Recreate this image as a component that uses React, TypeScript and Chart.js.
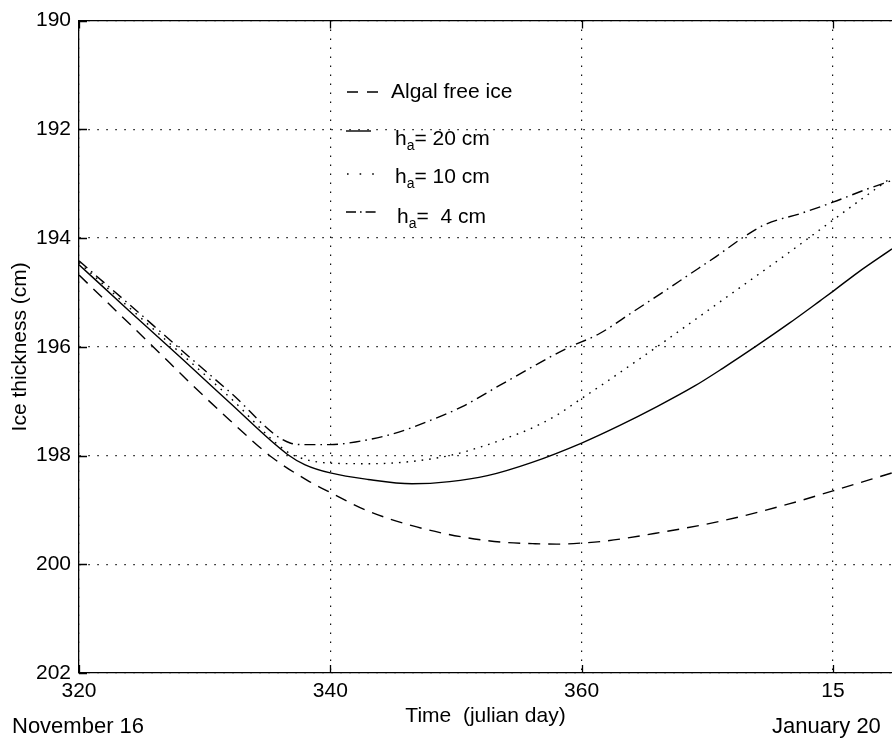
import React, { useEffect, useRef } from 'react';
import { Chart, registerables } from 'chart.js';

Chart.register(...registerables);

const FONT = "'Liberation Sans', Arial, Helvetica, sans-serif";

// Axis ticks
const xTickValues = [320, 340, 360, 380];
const xTickLabels = ['320', '340', '360', '15'];
const yTickValues = [190, 192, 194, 196, 198, 200, 202];

// Axis / annotation texts
const xAxisTitle = 'Time  (julian day)';
const yAxisTitle = 'Ice thickness (cm)';
const dateStartLabel = 'November 16';
const dateEndLabel = 'January 20';

// Series labels (underscore marks a subscript character)
const seriesLabels = ['Algal free ice', 'h_a= 20 cm', 'h_a= 10 cm', 'h_a=  4 cm'];

// Algal free ice
const algalDays = [320, 323, 326, 329, 332, 335.4, 338.2, 340, 342.9, 346.5, 350.8, 354, 356.1, 358, 360, 362, 365.9, 371.2, 376.5, 380, 384.7];
const algalThk = [194.68, 195.35, 196.02, 196.7, 197.35, 198.04, 198.46, 198.68, 199.01, 199.29, 199.51, 199.6, 199.62, 199.63, 199.61, 199.57, 199.43, 199.2, 198.89, 198.65, 198.32];

// h_a = 20 cm
const h20Days = [320, 324, 328, 332, 336.6, 338, 340, 343, 346.5, 349.5, 352.5, 356, 360, 363, 366, 369, 371.2, 374, 376.5, 379, 380, 382, 384.7];
const h20Thk = [194.49, 195.34, 196.18, 197.03, 197.98, 198.17, 198.32, 198.44, 198.52, 198.48, 198.37, 198.13, 197.77, 197.45, 197.1, 196.72, 196.4, 195.97, 195.57, 195.15, 194.98, 194.63, 194.2];

// h_a = 10 cm
const h10Days = [320, 324, 328, 332, 336.5, 338, 340, 343, 346, 349.5, 352, 354, 356, 358, 360, 362, 364, 366, 368, 370, 372, 374, 376, 378, 380, 382, 384.7];
const h10Thk = [194.45, 195.28, 196.1, 196.93, 197.92, 198.07, 198.14, 198.15, 198.12, 198.0, 197.84, 197.68, 197.5, 197.26, 196.95, 196.64, 196.32, 196.0, 195.67, 195.34, 195.01, 194.68, 194.35, 194.01, 193.67, 193.33, 192.88];

// h_a = 4 cm
const h4Days = [320, 324, 328, 332, 336.8, 338, 340, 342, 345, 348, 350.5, 353.4, 356, 358.8, 361.4, 364, 366.7, 368.5, 370.7, 373.1, 374.7, 377.4, 380, 382.7, 384.7];
const h4Thk = [194.42, 195.22, 196.03, 196.83, 197.77, 197.8, 197.8, 197.75, 197.6, 197.35, 197.1, 196.72, 196.38, 196.03, 195.76, 195.37, 194.96, 194.68, 194.34, 193.95, 193.74, 193.55, 193.34, 193.1, 192.94];

const toPoints = (days: number[], vals: number[]) => days.map((d, i) => ({ x: d, y: vals[i] }));

function drawLabel(ctx: CanvasRenderingContext2D, text: string, x: number, y: number) {
  const parts = text.split('_');
  ctx.font = `21px ${FONT}`;
  if (parts.length === 1) {
    ctx.fillText(text, x, y);
    return;
  }
  ctx.fillText(parts[0], x, y);
  x += ctx.measureText(parts[0]).width;
  const sub = parts[1].charAt(0);
  const rest = parts[1].slice(1);
  ctx.font = `14px ${FONT}`;
  ctx.fillText(sub, x, y + 5);
  x += ctx.measureText(sub).width;
  ctx.font = `21px ${FONT}`;
  ctx.fillText(rest, x, y);
}

const framePlugin = {
  id: 'matlabFrame',
  afterDatasetsDraw(chart: any) {
    const ctx: CanvasRenderingContext2D = chart.ctx;
    const { left, right, top, bottom } = chart.chartArea;
    const xs = chart.scales.x;
    const ys = chart.scales.y;
    ctx.save();
    ctx.strokeStyle = '#000';
    ctx.lineWidth = 1.3;
    ctx.setLineDash([]);
    ctx.beginPath();
    ctx.moveTo(left, top);
    ctx.lineTo(right, top);
    ctx.stroke();
    const tl = 8;
    ctx.beginPath();
    xTickValues.forEach((v) => {
      const px = Math.round(xs.getPixelForValue(v)) + 0.5;
      ctx.moveTo(px, bottom);
      ctx.lineTo(px, bottom - tl);
      ctx.moveTo(px, top);
      ctx.lineTo(px, top + tl);
    });
    yTickValues.forEach((v) => {
      const py = Math.round(ys.getPixelForValue(v)) + 0.5;
      ctx.moveTo(left, py);
      ctx.lineTo(left + tl, py);
    });
    ctx.stroke();
    ctx.restore();
  },
};

const legendRows = [
  { lineY: 92, textY: 98, textX: 391, x0: 347, x1: 378, dash: [11, 9] },
  { lineY: 131, textY: 145, textX: 395, x0: 346, x1: 371, dash: [] },
  { lineY: 174, textY: 183, textX: 395, x0: 347, x1: 375, dash: [1.6, 11] },
  { lineY: 212, textY: 223, textX: 397, x0: 346, x1: 377, dash: [10, 4, 1.6, 4] },
];

const legendPlugin = {
  id: 'matlabLegend',
  afterDraw(chart: any) {
    const ctx: CanvasRenderingContext2D = chart.ctx;
    ctx.save();
    chart.data.datasets.forEach((ds: any, i: number) => {
      const r = legendRows[i];
      ctx.strokeStyle = '#000';
      ctx.lineWidth = 1.4;
      ctx.setLineDash(r.dash);
      ctx.beginPath();
      ctx.moveTo(r.x0, r.lineY);
      ctx.lineTo(r.x1, r.lineY);
      ctx.stroke();
      ctx.setLineDash([]);
      ctx.fillStyle = '#000';
      ctx.textBaseline = 'alphabetic';
      ctx.textAlign = 'left';
      drawLabel(ctx, ds.label, r.textX, r.textY);
    });
    // date annotations under the axis
    ctx.font = `22px ${FONT}`;
    ctx.fillStyle = '#000';
    ctx.textAlign = 'left';
    ctx.textBaseline = 'alphabetic';
    ctx.fillText(dateStartLabel, 12, 733);
    ctx.fillText(dateEndLabel, 772, 733);
    ctx.restore();
  },
};

export default function App() {
  const ref = useRef<HTMLCanvasElement>(null);
  useEffect(() => {
    const canvas = ref.current;
    if (!canvas) return;
    const common = {
      borderColor: '#000',
      backgroundColor: '#000',
      borderWidth: 1.4,
      pointRadius: 0,
      fill: false,
      cubicInterpolationMode: 'monotone' as const,
      borderCapStyle: 'butt' as const,
    };
    const chart = new Chart(canvas, {
      type: 'line',
      data: {
        datasets: [
          { ...common, label: seriesLabels[0], data: toPoints(algalDays, algalThk), borderDash: [12, 8] },
          { ...common, label: seriesLabels[1], data: toPoints(h20Days, h20Thk) },
          { ...common, label: seriesLabels[2], data: toPoints(h10Days, h10Thk), borderDash: [1.6, 6] },
          { ...common, label: seriesLabels[3], data: toPoints(h4Days, h4Thk), borderDash: [11, 5, 1.6, 5] },
        ],
      },
      options: {
        responsive: false,
        animation: false,
        devicePixelRatio: 1,
        layout: { padding: { top: 17, left: 0, right: 0, bottom: 0 } },
        plugins: { legend: { display: false }, tooltip: { enabled: false } },
        scales: {
          x: {
            type: 'linear',
            min: 320,
            max: 384.7,
            afterBuildTicks: (s: any) => {
              s.ticks = xTickValues.map((v) => ({ value: v }));
            },
            afterFit: (s: any) => {
              s.height = 65;
            },
            ticks: {
              color: '#000',
              font: { family: FONT, size: 21 },
              padding: 6,
              maxRotation: 0,
              autoSkip: false,
              callback: (v: any) => {
                const i = xTickValues.indexOf(Number(v));
                return i >= 0 ? xTickLabels[i] : '';
              },
            },
            grid: { color: '#111', lineWidth: 1.2, drawTicks: false },
            border: { display: true, color: '#000', width: 1.3, dash: [1.5, 7.5] },
            title: {
              display: true,
              text: xAxisTitle,
              color: '#000',
              font: { family: FONT, size: 21 },
              padding: { top: 0, bottom: 9 },
            },
          },
          y: {
            type: 'linear',
            reverse: true,
            min: 190,
            max: 202,
            afterBuildTicks: (s: any) => {
              s.ticks = yTickValues.map((v) => ({ value: v }));
            },
            afterFit: (s: any) => {
              s.width = 79;
            },
            ticks: {
              color: '#000',
              font: { family: FONT, size: 21 },
              padding: 8,
            },
            grid: { color: '#111', lineWidth: 1.2, drawTicks: false },
            border: { display: true, color: '#000', width: 1.3, dash: [1.5, 7.5] },
            title: {
              display: true,
              text: yAxisTitle,
              color: '#000',
              font: { family: FONT, size: 21 },
              padding: { top: 8, bottom: 0 },
            },
          },
        },
      },
      plugins: [framePlugin, legendPlugin],
    } as any);
    return () => chart.destroy();
  }, []);
  return (
    <div style={{ position: 'absolute', left: 0, top: 0, width: 892, height: 738, background: '#fff' }}>
      <canvas ref={ref} width={892} height={738} style={{ display: 'block' }} />
    </div>
  );
}
